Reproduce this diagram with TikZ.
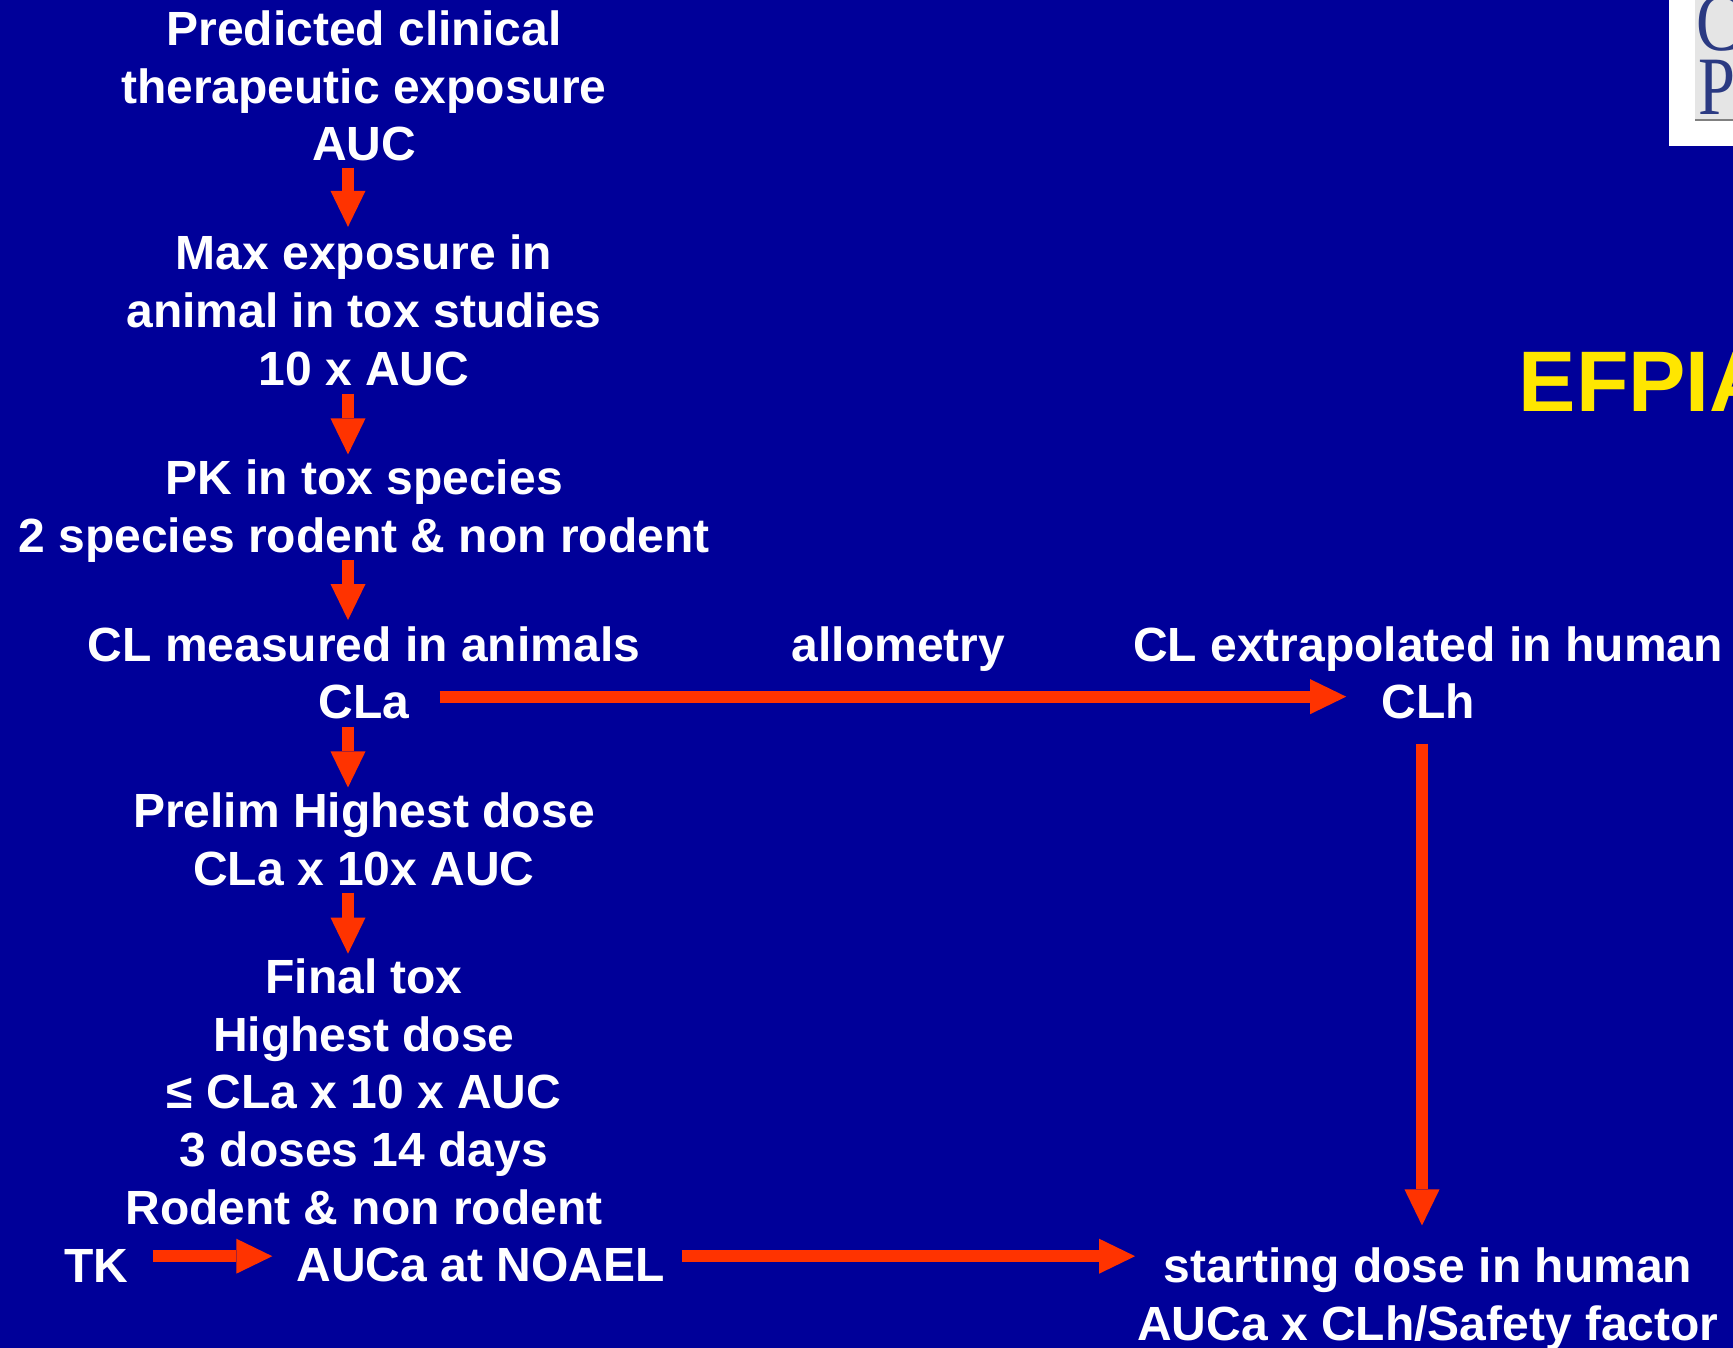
\documentclass[tikz,border=0pt]{standalone}
\usepackage{fontspec}
\setmainfont{Liberation Sans}
\newfontfamily\logofont{Liberation Serif}
\usetikzlibrary{arrows.meta,calc}
\definecolor{slidebg}{HTML}{000099}
\definecolor{arrowred}{HTML}{FF3300}
\definecolor{titleyellow}{HTML}{FFE600}
\definecolor{logoblue}{HTML}{2B3A82}
\tikzset{
  txt/.style={text=white,font=\fontsize{48}{57.6}\selectfont\bfseries,align=center,inner sep=0pt,anchor=base},
  blockarrow/.style={draw=arrowred,line width=12pt,-{Triangle[length=36pt,width=35pt,fill=arrowred,line width=0pt]}},
}
\begin{document}
\begin{tikzpicture}[x=1pt,y=-1pt]
\useasboundingbox (0,0) rectangle (1733,1348);
\clip (0,0) rectangle (1733,1348);
\fill[slidebg] (0,0) rectangle (1733,1348);
% logo
\fill[white] (1669,0) rectangle (1733,146);
\fill[black!10] (1695,0) rectangle (1733,120);
\draw[black!50,line width=1.5pt] (1695,120) -- (1733,120);
\node[inner sep=0pt,anchor=base west,text=logoblue,xscale=.8,font=\fontsize{83}{83}\selectfont\logofont] (logoc) at (1696,51) {C};
\node[inner sep=0pt,anchor=base west,text=logoblue,xscale=.8,font=\fontsize{83}{83}\selectfont\logofont] (logop) at (1698,115) {P};
% title
\node[inner sep=0pt,anchor=base west,text=titleyellow,font=\fontsize{86}{86}\selectfont\bfseries] (title) at (1518.5,411) {EFPIA};
% left column
\coordinate (ax) at (348,0);
\node[txt] (a1) at (364,161) {Predicted clinical\\therapeutic exposure\\AUC};
\node[txt] (a2) at (364,385) {Max exposure in\\animal in tox studies\\10 x AUC};
\node[txt] (a3) at (364,552) {PK in tox species\\2 species rodent \& non rodent};
\node[txt] (a4) at (364,661) {CL measured in animals};
\node[txt] (a4b) at (364,718) {CLa};
\node[txt] (a5) at (364,885) {Prelim Highest dose\\CLa x 10x AUC};
\node[txt] (a6) at (364,1224) {Final tox\\Highest dose\\≤ CLa x 10 x AUC\\3 doses 14 days\\Rodent \& non rodent};
\node[txt] (tk) at (96.5,1282) {TK};
\node[txt] (noael) at (480.5,1281.5) {AUCa at NOAEL};
\node[txt] (allo) at (898.5,661) {allometry};
\node[txt] (clx) at (1428,661) {CL extrapolated in human};
\node[txt] (clh) at (1428,718) {CLh};
\node[txt] (start) at (1428,1340) {starting dose in human\\AUCa x CLh/Safety factor};
% vertical chain
\draw[blockarrow] ([yshift=-6pt]a1.south -| ax) -- ([yshift=8pt]a2.north -| ax);
\draw[blockarrow] ([yshift=-8pt]a2.south -| ax) -- ([yshift=5pt]a3.north -| ax);
\draw[blockarrow] ([yshift=2pt]a3.south -| ax) -- ([yshift=6pt]a4.north -| ax);
\draw[blockarrow] ([yshift=-8pt]a4b.south -| ax) -- ([yshift=5pt]a5.north -| ax);
\draw[blockarrow] ([yshift=-7pt]a5.south -| ax) -- ([yshift=5pt]a6.north -| ax);
% horizontal
\coordinate (tkline) at ([yshift=26pt]tk.south);
\draw[blockarrow] ([shift={(30,-22)}]a4b.south east) -- ([shift={(-35,-22)}]a4b.south east -| clh.west);
\draw[blockarrow] ([xshift=24pt]tk.east |- tkline) -- ([xshift=-24pt]noael.west |- tkline);
\draw[blockarrow] ([xshift=17pt]noael.east |- tkline) -- ([xshift=-2pt]start.west |- tkline);
% vertical right
\draw[blockarrow] ([shift={(-6,25)}]clh.south) -- ([shift={(-6,-22)}]start.north);
\end{tikzpicture}
\end{document}
